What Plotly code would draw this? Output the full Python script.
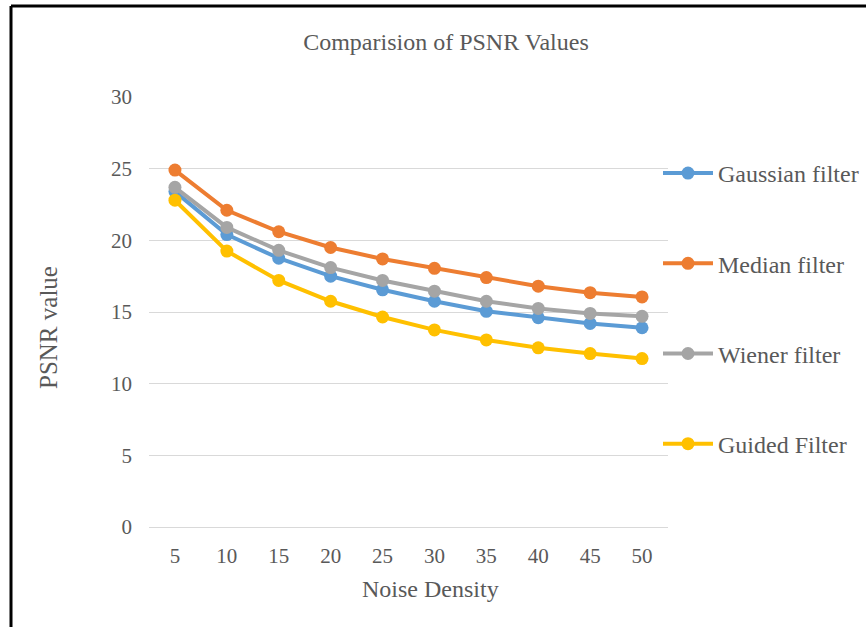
import plotly.graph_objects as go

noise_density = ["5", "10", "15", "20", "25", "30", "35", "40", "45", "50"]
gaussian = [23.4, 20.4, 18.75, 17.5, 16.55, 15.75, 15.05, 14.6, 14.2, 13.9]
median = [24.9, 22.1, 20.6, 19.5, 18.7, 18.05, 17.4, 16.8, 16.35, 16.05]
wiener = [23.7, 20.9, 19.3, 18.1, 17.2, 16.45, 15.75, 15.25, 14.9, 14.7]
guided = [22.8, 19.25, 17.2, 15.75, 14.65, 13.75, 13.05, 12.5, 12.1, 11.75]

series = [
    ("Gaussian filter", gaussian, "#5B9BD5"),
    ("Median filter", median, "#ED7D31"),
    ("Wiener filter", wiener, "#A5A5A5"),
    ("Guided Filter", guided, "#FFC000"),
]

FONT = "'Liberation Serif', 'Times New Roman', Times, serif"
GREY = "#595959"

fig = go.Figure()
for i, (name, vals, col) in enumerate(series):
    fig.add_trace(go.Scatter(
        x=noise_density, y=vals, name=name, mode="lines+markers",
        line=dict(color=col, width=4), marker=dict(color=col, size=13),
        legendgroup=str(i),
    ))

W, H = 866, 627
L, R, T, B = 149, 198, 97, 100
pw, ph = W - L - R, H - T - B

def px(x):
    return (x - L) / pw

def py(y):
    return (H - B - y) / ph

fig.update_layout(
    width=W, height=H,
    margin=dict(l=L, r=R, t=T, b=B, autoexpand=False),
    paper_bgcolor="white", plot_bgcolor="white",
    font=dict(family=FONT, color=GREY, size=21),
    title=dict(text="Comparision of PSNR Values", x=0.515, xanchor="center",
               y=1 - 42 / H, yanchor="middle", font=dict(size=24, color=GREY, family=FONT)),
    xaxis=dict(type="category", range=[-0.5, 9.5], showgrid=False, showline=True,
               linecolor="#D9D9D9", linewidth=1, ticks="", ticklabelstandoff=10,
               tickfont=dict(size=21, color=GREY, family=FONT)),
    yaxis=dict(range=[0, 30], dtick=5, showgrid=True, gridcolor="#D9D9D9", gridwidth=1,
               zeroline=False, showline=False, ticks="", tickfont=dict(size=21, color=GREY, family=FONT),
               ticklabelstandoff=16),
    legend=dict(xref="container", x=658 / W, xanchor="left", y=py(151), yanchor="top",
                font=dict(size=24, color=GREY, family=FONT), tracegroupgap=56,
                bgcolor="rgba(0,0,0,0)", itemwidth=50),
    showlegend=True,
    annotations=[
        dict(text="Noise Density", xref="paper", yref="paper", x=px(430), y=py(589),
             xanchor="center", yanchor="middle", showarrow=False,
             font=dict(size=24, color=GREY, family=FONT)),
        dict(text="PSNR value", xref="paper", yref="paper", x=px(48), y=py(328),
             xanchor="center", yanchor="middle", showarrow=False, textangle=-90,
             font=dict(size=25, color=GREY, family=FONT)),
    ],
    shapes=[
        dict(type="line", xref="paper", yref="paper", x0=px(11), x1=px(W + 5),
             y0=py(6), y1=py(6), line=dict(color="black", width=3)),
        dict(type="line", xref="paper", yref="paper", x0=px(11), x1=px(11),
             y0=py(6), y1=py(H + 5), line=dict(color="black", width=3)),
    ],
)

fig.write_html("out.html")
